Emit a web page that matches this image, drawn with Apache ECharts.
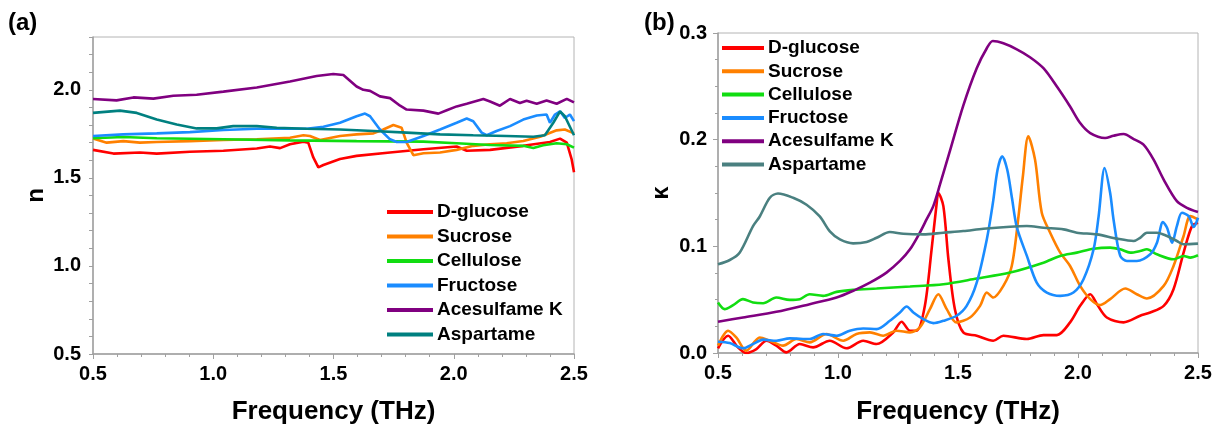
<!DOCTYPE html>
<html>
<head>
<meta charset="utf-8">
<script src="https://cdn.jsdelivr.net/npm/echarts@6.0.0/dist/echarts.min.js"></script>
<style>
  html, body { margin: 0; padding: 0; background: #fff; }
  #chart { width: 1221px; height: 430px; }
</style>
</head>
<body>
<div id="chart"></div>
<script>
// sample names, legend order
const names = ['D-glucose', 'Sucrose', 'Cellulose', 'Fructose', 'Acesulfame K', 'Aspartame']

// (a) refractive index n, [frequency THz, n]
const nGlucose = [[0.5,1.659],[0.585,1.638],[0.695,1.644],[0.765,1.638],[0.903,1.648],[1.042,1.654],[1.181,1.667],[1.236,1.678],[1.278,1.669],[1.319,1.691],[1.375,1.706],[1.395,1.70],[1.416,1.616],[1.437,1.56],[1.458,1.573],[1.527,1.607],[1.596,1.625],[1.735,1.644],[1.874,1.663],[2.012,1.678],[2.054,1.654],[2.151,1.659],[2.289,1.682],[2.40,1.704],[2.442,1.723],[2.47,1.70],[2.49,1.607],[2.5,1.532]]
const nSucrose = [[0.5,1.723],[0.557,1.70],[0.626,1.709],[0.695,1.70],[0.765,1.704],[0.903,1.709],[1.042,1.715],[1.181,1.719],[1.319,1.728],[1.375,1.742],[1.402,1.738],[1.444,1.715],[1.527,1.738],[1.596,1.747],[1.666,1.753],[1.707,1.775],[1.749,1.80],[1.783,1.785],[1.804,1.70],[1.832,1.629],[1.874,1.64],[1.943,1.644],[2.012,1.659],[2.081,1.682],[2.151,1.691],[2.22,1.697],[2.289,1.709],[2.359,1.734],[2.428,1.77],[2.462,1.775],[2.5,1.753]]
const nCellulose = [[0.5,1.725],[0.626,1.732],[0.765,1.725],[1.042,1.719],[1.319,1.713],[1.596,1.709],[1.874,1.706],[2.012,1.697],[2.151,1.687],[2.289,1.682],[2.331,1.67],[2.372,1.685],[2.428,1.697],[2.47,1.691],[2.5,1.672]]
const nFructose = [[0.5,1.738],[0.626,1.747],[0.765,1.753],[0.903,1.76],[1.042,1.772],[1.181,1.779],[1.388,1.779],[1.458,1.79],[1.527,1.813],[1.596,1.85],[1.631,1.865],[1.652,1.85],[1.693,1.775],[1.735,1.719],[1.763,1.704],[1.804,1.704],[1.874,1.738],[1.943,1.775],[2.012,1.813],[2.054,1.837],[2.081,1.822],[2.116,1.757],[2.137,1.742],[2.178,1.766],[2.234,1.794],[2.289,1.831],[2.345,1.854],[2.386,1.86],[2.40,1.813],[2.421,1.86],[2.442,1.878],[2.462,1.84],[2.483,1.86],[2.5,1.822]]
const nAcesulfame = [[0.5,1.948],[0.598,1.94],[0.668,1.957],[0.751,1.95],[0.834,1.966],[0.931,1.972],[1.042,1.99],[1.181,2.013],[1.319,2.047],[1.43,2.079],[1.499,2.09],[1.541,2.084],[1.596,2.019],[1.624,2.0],[1.652,1.994],[1.693,1.963],[1.735,1.953],[1.777,1.91],[1.804,1.888],[1.874,1.882],[1.936,1.865],[1.971,1.884],[2.012,1.906],[2.054,1.921],[2.123,1.948],[2.151,1.934],[2.192,1.91],[2.234,1.948],[2.275,1.925],[2.303,1.938],[2.345,1.921],[2.386,1.94],[2.428,1.921],[2.47,1.949],[2.5,1.929]]
const nAspartame = [[0.5,1.869],[0.612,1.882],[0.682,1.869],[0.765,1.831],[0.848,1.803],[0.931,1.781],[1.014,1.781],[1.083,1.794],[1.181,1.794],[1.264,1.785],[1.388,1.779],[1.527,1.775],[1.666,1.766],[1.804,1.757],[1.943,1.747],[2.081,1.742],[2.22,1.738],[2.331,1.734],[2.379,1.742],[2.414,1.813],[2.442,1.878],[2.462,1.85],[2.5,1.742]]

// (b) extinction coefficient kappa, [frequency THz, kappa]
const kGlucose = [[0.5,0.0044],[0.542,0.0162],[0.583,0.0053],[0.618,0],[0.66,0.0037],[0.702,0.0115],[0.743,0.0069],[0.785,0.0006],[0.841,0.0084],[0.896,0.0053],[0.966,0.0115],[1.035,0.0044],[1.105,0.0115],[1.161,0.0084],[1.23,0.0193],[1.265,0.0293],[1.30,0.0209],[1.328,0.0209],[1.362,0.0442],[1.39,0.0972],[1.411,0.14],[1.418,0.15],[1.439,0.1377],[1.46,0.0879],[1.487,0.0411],[1.522,0.0193],[1.578,0.0162],[1.647,0.0115],[1.689,0.0162],[1.787,0.0131],[1.856,0.0168],[1.912,0.0168],[1.967,0.0287],[2.009,0.0442],[2.051,0.0551],[2.079,0.0458],[2.12,0.0333],[2.19,0.0287],[2.259,0.0349],[2.301,0.038],[2.357,0.0442],[2.398,0.0598],[2.44,0.0941],[2.475,0.119],[2.5,0.1221]]
const kSucrose = [[0.5,0.0069],[0.542,0.0209],[0.576,0.0146],[0.618,0.0022],[0.674,0.0146],[0.716,0.0115],[0.771,0.0069],[0.827,0.0131],[0.882,0.01],[0.952,0.0178],[1.022,0.0115],[1.077,0.0178],[1.133,0.0193],[1.188,0.0162],[1.244,0.0209],[1.30,0.0193],[1.341,0.024],[1.383,0.0411],[1.418,0.0551],[1.453,0.0411],[1.494,0.0287],[1.55,0.0333],[1.592,0.0442],[1.62,0.0567],[1.647,0.052],[1.689,0.0629],[1.724,0.0816],[1.752,0.128],[1.77,0.165],[1.793,0.2031],[1.821,0.1813],[1.849,0.1315],[1.884,0.1128],[1.926,0.0941],[1.967,0.0816],[2.009,0.0629],[2.051,0.0505],[2.092,0.0449],[2.134,0.0505],[2.197,0.0604],[2.245,0.0551],[2.287,0.0511],[2.357,0.0629],[2.398,0.0816],[2.44,0.1097],[2.468,0.1283],[2.5,0.1252]]
const kCellulose = [[0.5,0.0474],[0.528,0.0411],[0.563,0.0449],[0.604,0.0505],[0.646,0.0474],[0.688,0.0467],[0.743,0.052],[0.799,0.0498],[0.841,0.0505],[0.882,0.0551],[0.938,0.0536],[0.994,0.0573],[1.063,0.0592],[1.161,0.0604],[1.23,0.0614],[1.30,0.0623],[1.439,0.0645],[1.578,0.0698],[1.717,0.0754],[1.856,0.0847],[1.926,0.091],[1.995,0.0941],[2.065,0.0978],[2.134,0.0988],[2.176,0.0972],[2.218,0.0941],[2.259,0.0956],[2.287,0.0972],[2.329,0.0925],[2.398,0.0879],[2.44,0.091],[2.468,0.0894],[2.5,0.0916]]
const kFructose = [[0.5,0.0106],[0.549,0.0093],[0.604,0.0044],[0.646,0.0084],[0.688,0.0125],[0.743,0.0115],[0.799,0.0137],[0.882,0.0131],[0.938,0.0178],[0.994,0.0162],[1.049,0.0209],[1.105,0.023],[1.161,0.0224],[1.216,0.0302],[1.258,0.038],[1.286,0.0436],[1.314,0.038],[1.355,0.0318],[1.397,0.028],[1.439,0.0302],[1.494,0.0349],[1.536,0.0442],[1.578,0.066],[1.62,0.1065],[1.645,0.14],[1.665,0.172],[1.684,0.1844],[1.705,0.172],[1.725,0.145],[1.745,0.118],[1.787,0.091],[1.828,0.066],[1.87,0.0567],[1.926,0.0536],[1.981,0.0567],[2.023,0.0692],[2.065,0.0972],[2.086,0.1283],[2.111,0.1735],[2.134,0.15],[2.148,0.1252],[2.176,0.091],[2.204,0.0863],[2.245,0.0863],[2.301,0.0925],[2.329,0.1034],[2.354,0.1227],[2.371,0.1174],[2.392,0.1034],[2.412,0.119],[2.433,0.1315],[2.461,0.1283],[2.482,0.1181],[2.5,0.1268]]
const kAcesulfame = [[0.5,0.0293],[0.604,0.0333],[0.743,0.0386],[0.882,0.0458],[0.994,0.052],[1.063,0.0583],[1.133,0.066],[1.202,0.0754],[1.258,0.0863],[1.30,0.0972],[1.341,0.1128],[1.369,0.1252],[1.397,0.1377],[1.425,0.158],[1.467,0.19],[1.522,0.232],[1.578,0.267],[1.62,0.2857],[1.645,0.2925],[1.689,0.2903],[1.745,0.2847],[1.80,0.2773],[1.856,0.267],[1.912,0.2498],[1.967,0.2311],[2.009,0.2156],[2.051,0.2062],[2.113,0.2016],[2.148,0.2037],[2.19,0.2053],[2.232,0.2006],[2.273,0.1953],[2.315,0.1813],[2.357,0.1626],[2.412,0.1424],[2.454,0.1361],[2.5,0.1321]]
const kAspartame = [[0.5,0.0832],[0.549,0.0872],[0.59,0.094],[0.646,0.119],[0.674,0.128],[0.716,0.1455],[0.75,0.1495],[0.813,0.1455],[0.869,0.139],[0.924,0.128],[0.966,0.114],[1.008,0.1065],[1.063,0.1028],[1.119,0.104],[1.161,0.108],[1.216,0.1134],[1.272,0.1118],[1.355,0.1112],[1.439,0.1128],[1.522,0.1143],[1.606,0.1165],[1.717,0.1184],[1.787,0.119],[1.856,0.1174],[1.94,0.1159],[1.995,0.1128],[2.079,0.1112],[2.162,0.1072],[2.232,0.105],[2.259,0.108],[2.287,0.1128],[2.329,0.1128],[2.371,0.1097],[2.412,0.105],[2.44,0.1019],[2.5,0.1025]]

// axis ticks
const freqTicks = [0.5, 1.0, 1.5, 2.0, 2.5]
const nTicks = [0.5, 1.0, 1.5, 2.0]
const kTicks = [0.0, 0.1, 0.2, 0.3]

const colorsA = ['#ff0000', '#ff8000', '#11dd11', '#1a8cff', '#800080', '#008080']
const colorsB = ['#ff0000', '#ff8000', '#11dd11', '#1a8cff', '#800080', '#4a8080']
const nSets = [nGlucose, nSucrose, nCellulose, nFructose, nAcesulfame, nAspartame]
const kSets = [kGlucose, kSucrose, kCellulose, kFructose, kAcesulfame, kAspartame]

const FONT = '"Liberation Sans", Arial, sans-serif'
const AXIS_GRAY = '#a0a0a0'

function xAxisOf(gridIndex, gap) {
  return {
    type: 'value', gridIndex: gridIndex,
    min: freqTicks[0], max: freqTicks[freqTicks.length - 1], interval: 0.5,
    name: 'Frequency (THz)', nameLocation: 'middle', nameGap: gap,
    nameTextStyle: { fontFamily: FONT, fontWeight: 'bold', fontSize: 26, color: '#000' },
    axisLine: { show: true, onZero: false, lineStyle: { color: AXIS_GRAY, width: 1.5 } },
    axisTick: { show: true, inside: false, length: 5, lineStyle: { color: AXIS_GRAY } },
    minorTick: { show: true, splitNumber: 5, length: 3, lineStyle: { color: AXIS_GRAY } },
    splitLine: { show: false },
    axisLabel: { margin: 10, fontFamily: FONT, fontWeight: 'bold', fontSize: 20, color: '#000',
      formatter: v => v.toFixed(1) }
  }
}

function seriesOf(sets, colors, idx, smooth) {
  return sets.map((d, i) => ({
    type: 'line', name: names[i], data: d,
    xAxisIndex: idx, yAxisIndex: idx,
    showSymbol: false, smooth: smooth, animation: false,
    lineStyle: { width: 2.6, color: colors[i] },
    itemStyle: { color: colors[i] }
  }))
}

function legendOf(left, top, itemWidth, gap, colors) {
  return {
    left: left, top: top, orient: 'vertical', icon: 'rect', selectedMode: false, padding: 0,
    itemWidth: itemWidth, itemHeight: 4, itemGap: gap,
    textStyle: { fontFamily: FONT, fontWeight: 'bold', fontSize: 19, color: '#000', lineHeight: 20, padding: [0, 0, 0, -1] },
    data: names.map((n, i) => ({ name: n, itemStyle: { color: colors[i], borderWidth: 0 } }))
  }
}

const chart = echarts.init(document.getElementById('chart'))
chart.setOption({
  backgroundColor: '#fff',
  animation: false,
  grid: [
    { left: 93, top: 37, width: 481, height: 320, show: true, borderColor: '#b4b4b4', borderWidth: 1 },
    { left: 718, top: 33, width: 480, height: 321, show: true, borderColor: '#b4b4b4', borderWidth: 1 }
  ],
  xAxis: [xAxisOf(0, 45), xAxisOf(1, 46)],
  yAxis: [
    {
      type: 'value', gridIndex: 0, min: 0.5, max: 2.3, interval: 0.1,
      name: 'n', nameLocation: 'middle', nameGap: 45,
      nameTextStyle: { fontFamily: FONT, fontWeight: 'bold', fontSize: 24, color: '#000' },
      axisLine: { show: true, onZero: false, lineStyle: { color: AXIS_GRAY, width: 1.5 } },
      axisTick: { show: true, inside: false, length: 4, lineStyle: { color: AXIS_GRAY } },
      splitLine: { show: false },
      axisLabel: { margin: 12, fontFamily: FONT, fontWeight: 'bold', fontSize: 20, color: '#000',
        formatter: v => nTicks.some(t => Math.abs(t - v) < 1e-6) ? v.toFixed(1) : '' }
    },
    {
      type: 'value', gridIndex: 1, min: kTicks[0], max: kTicks[kTicks.length - 1], interval: 0.1,
      name: 'κ', nameLocation: 'middle', nameGap: 45,
      nameTextStyle: { fontFamily: FONT, fontWeight: 'bold', fontSize: 24, color: '#000' },
      axisLine: { show: true, onZero: false, lineStyle: { color: AXIS_GRAY, width: 1.5 } },
      axisTick: { show: true, inside: false, length: 5, lineStyle: { color: AXIS_GRAY } },
      minorTick: { show: true, splitNumber: 4, length: 3, lineStyle: { color: AXIS_GRAY } },
      splitLine: { show: false },
      axisLabel: { margin: 11, fontFamily: FONT, fontWeight: 'bold', fontSize: 20, color: '#000',
        formatter: v => v.toFixed(1) }
    }
  ],
  legend: [
    legendOf(387, 202, 46, 4.5, colorsA),
    legendOf(722, 38, 42, 3.3, colorsB)
  ],
  graphic: [
    { type: 'text', left: 8, top: 11, style: { text: '(a)', font: 'bold 24px ' + FONT, fill: '#000' } },
    { type: 'text', left: 644, top: 11, style: { text: '(b)', font: 'bold 24px ' + FONT, fill: '#000' } }
  ],
  series: [].concat(seriesOf(nSets, colorsA, 0, false), seriesOf(kSets, colorsB, 1, 0.3))
})
</script>
</body>
</html>
